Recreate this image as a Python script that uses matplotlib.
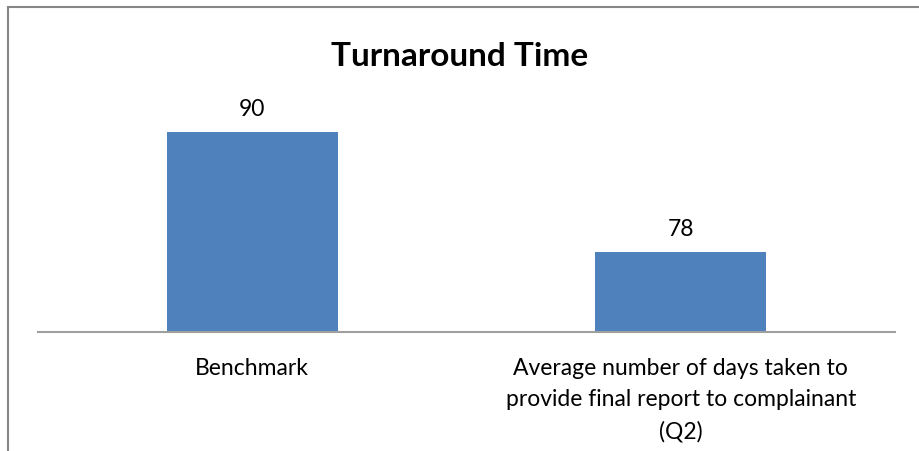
import matplotlib
matplotlib.use("Agg")
import matplotlib.pyplot as plt
from matplotlib.patches import Rectangle

categories = ["Benchmark", "Average number of days taken to\nprovide final report to complainant\n(Q2)"]
values = [90, 78]
title = "Turnaround Time"

plt.rcParams['font.family'] = ['Lato', 'DejaVu Sans']

W, H = 919, 451
fig = plt.figure(figsize=(W/100, H/100), dpi=100)
ax = fig.add_axes([38/W, 1-332/H, (895-38)/W, (332-82)/H])

x = list(range(len(categories)))
bars = ax.bar(x, values, width=0.4, color="#4F81BD", zorder=2)
ax.set_xlim(-0.5, 1.5)
ax.set_ylim(70, 95)
for xi, v in zip(x, values):
    ax.annotate(str(v), (xi, v), xytext=(0, 9), textcoords="offset points",
                ha="center", va="bottom", fontsize=16.5)

ax.set_yticks([])
ax.set_xticks(x)
ax.set_xticklabels(categories, fontsize=16.5, linespacing=1.58)
ax.tick_params(axis="x", length=0, pad=19)
for s in ["top", "right", "left"]:
    ax.spines[s].set_visible(False)
ax.spines["bottom"].set_color("#A0A0A0")
ax.spines["bottom"].set_linewidth(1.5)

fig.text(0.5, 1-56/H, title, ha="center", va="center", fontsize=24, fontweight="bold")

fig.patches.append(Rectangle((7.5/W, -0.1), 1.2, 1-7.5/H+0.1, transform=fig.transFigure,
                             fill=False, edgecolor="#868686", linewidth=1.5, clip_on=False))

fig.savefig("out.png", dpi=100)
